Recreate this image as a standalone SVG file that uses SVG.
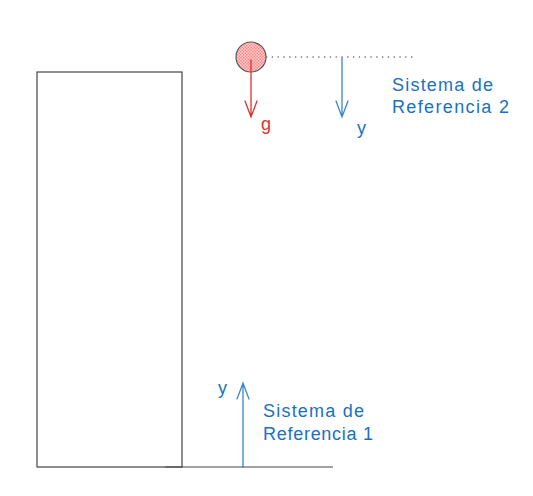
<svg xmlns="http://www.w3.org/2000/svg" width="533" height="496" viewBox="0 0 533 496">
<style>
.frame{fill:none;stroke:#444;stroke-width:1.2}
.blue{stroke:#1971c2;stroke-width:1.3;fill:none;stroke-linecap:round}
.red{stroke:#e03131;stroke-width:1.3;fill:none;stroke-linecap:round}
.tb{fill:#1971c2;font-family:"Liberation Sans",sans-serif;font-size:18px}
.tr{fill:#e03131;font-family:"Liberation Sans",sans-serif;font-size:18px}
</style>
<defs>
<pattern id="hatch" width="3" height="3" patternUnits="userSpaceOnUse">
<rect width="3" height="3" fill="#ffd0d0"/>
<rect width="1.5" height="1.5" fill="#ff8787"/>
<rect x="1.5" y="1.5" width="1.5" height="1.5" fill="#ff8787"/>
</pattern>
</defs>
<rect width="533" height="496" fill="#fff"/>
<g id="building">
<rect class="frame" x="37" y="72" width="145" height="395"/>
</g>
<g id="ground">
<line class="frame" x1="165" y1="467" x2="333" y2="467"/>
</g>
<g id="ball">
<circle cx="251" cy="57" r="15" fill="url(#hatch)" stroke="#555" stroke-width="1.2"/>
</g>
<g id="connectors">
<line x1="266" y1="57" x2="415" y2="57" stroke="#777" stroke-width="1.3" stroke-dasharray="1.3 4.5"/>
<path class="red" d="M251 60 L251 117 M245 101 L251 117 L257 101"/>
<path class="blue" d="M342 58 L342 117 M336 101 L342 117 L348 101" opacity="0.85"/>
<path class="blue" d="M243 467 L243 383 M237 399 L243 383 L249 399" opacity="0.85"/>
</g>
<g id="labels">
<text class="tr" x="261" y="130">g</text>
<text class="tb" x="357" y="134">y</text>
<text class="tb" x="392" y="91" textLength="101">Sistema de</text>
<text class="tb" x="392" y="113" textLength="117">Referencia 2</text>
<text class="tb" x="218" y="394">y</text>
<text class="tb" x="263" y="417" textLength="101">Sistema de</text>
<text class="tb" x="263" y="440" textLength="110">Referencia 1</text>
</g>
</svg>
